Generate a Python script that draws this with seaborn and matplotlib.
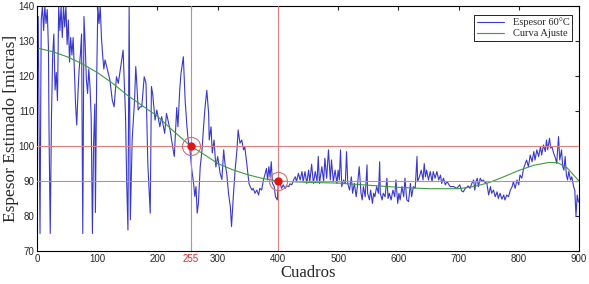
import matplotlib
matplotlib.use("Agg")
import matplotlib.pyplot as plt
import seaborn as sns
import pandas as pd

sns.set_style("white")

# espesor estimado (frame, micras)
cuadros = [0, 2, 5, 7, 9, 11, 13, 15, 17, 19, 20, 22, 24, 26, 28, 30, 32, 34, 36, 38,
           40, 42, 44, 46, 48, 50, 52, 54, 56, 58, 60, 62, 64, 66, 68, 70, 72, 74, 76, 78,
           80, 82, 84, 86, 88, 90, 92, 94, 96, 97, 99, 101, 103, 105, 107, 109, 111,
           113, 121, 125, 128, 132, 135, 139, 143, 147, 149, 151, 153, 155, 158, 162, 164,
           166, 168, 171, 174, 178, 181, 184, 188, 190, 192, 196, 199, 204, 207, 212, 215,
           221, 226, 228,
           230, 232, 234, 237, 239, 243, 246, 249, 251, 254, 257, 260, 262, 264, 266, 268,
           271, 274, 277, 279, 282, 285, 286, 289, 291, 294, 297, 300, 304, 307, 310, 312,
           315, 318, 321, 323, 326, 329, 332, 334, 337, 340, 343, 345, 348,
           352, 354, 357, 359, 362, 365, 368, 370, 373, 376, 379, 381, 383, 385, 387, 389,
           391, 394, 396, 399, 401, 404, 406, 409, 412, 415, 418, 420, 423, 426, 429, 431,
           434, 437, 440, 442, 445, 448, 451, 453, 456, 459, 462, 465, 467, 469, 473, 476,
           478, 481, 484, 487, 489, 492, 495, 498, 500, 502, 504,
           506, 509, 512, 514, 516, 519, 522, 524, 527, 530, 532, 535, 538, 540, 542, 545,
           548, 549, 552, 554, 557, 559, 561, 564, 567, 569, 570, 573, 575, 578, 581, 583,
           585, 588, 591, 594, 596, 599, 601, 603, 606, 609, 611, 614, 617, 620, 622, 625,
           628, 631, 632, 635, 638, 641, 643, 645, 647, 650, 653, 656, 658, 661, 664, 667,
           670, 672, 675, 678, 681, 686, 692, 697, 702,
           705, 708, 711, 714, 716, 719, 722, 725, 727, 729, 731, 733, 736, 739, 741, 744,
           747, 750, 753, 755, 758, 761, 764, 766, 769, 772, 775, 777, 780, 783, 786, 789,
           791, 794, 797, 800, 802, 805, 808, 811, 813, 816, 819, 822, 825, 827, 830, 833,
           836, 838, 841, 844, 846, 848, 851, 853, 855, 858, 861, 863, 866, 868, 871, 873,
           875, 877, 879, 881, 883, 886, 888, 891, 893, 895, 897, 899]
espesor = [112, 137, 75, 136, 140, 133, 140, 135, 139, 128, 104, 75, 108, 126, 132, 116, 121, 113, 140, 133,
           140, 131, 140, 134, 140, 129, 136, 124, 131, 126, 131, 122, 112, 106, 115, 122, 126, 132, 75, 137,
           129, 119, 115, 122, 117, 108, 75, 101, 112, 81, 118, 140, 135, 140, 131, 126, 122,
           124.6, 118.9, 113.1, 111.2, 119.8, 117.9, 122.7, 127.4, 108.4, 89.3, 76, 140, 78.9, 101.7, 113.1, 122.7,
           117, 110.3, 111.2, 111.2, 119.8, 117.9, 95, 80.8, 117, 115, 107.4, 110.3, 105.5, 108.4, 103.6, 109.3,
           104.6, 98.9, 97,
           104, 111, 105.5, 116, 120.6, 125.5, 113, 105.5, 101.7, 98.9, 93.2, 89.4, 85.6, 88.4, 80.8, 83.6,
           94, 98.9, 106.5, 111, 115.9, 109.3, 101.7, 105.5, 98, 101.7, 94, 97, 92.3, 90.4, 98.9, 95.1,
           92.3, 86.5, 82.7, 77, 85.6, 93.2, 98.9, 104.6, 100.8, 101.7, 98.9, 99.8, 95.5,
           89.3, 88.4, 87.4, 87.9, 86.5, 87.4, 86, 87.9, 87.4, 90.3, 92.2, 93.6, 90.3, 94.1, 91.2, 95.5,
           89.3, 88.4, 85.5, 84.6, 90.3, 89.3, 87.9, 88.9, 87.9, 88.6, 88.4, 89.2, 88.9, 90.3, 91.2, 89.8,
           92.2, 90.3, 92.7, 89.8, 92.7, 89.3, 93.1, 89.8, 94.8, 89.3, 92.7, 89.8, 97, 89.3, 94.1, 89.8,
           96.5, 90.8, 98.9, 90.3, 96, 89.8, 93.1, 89.3, 93.1, 90.3, 98.9,
           88.4, 90.3, 89.3, 98.4, 89.3, 87.4, 91.2, 86.5, 89.3, 85.5, 88.4, 94.1, 86.5, 84.6, 88.4, 85.5,
           94.6, 86.5, 84.6, 87.4, 83.6, 86.5, 85.5, 88.4, 86.5, 95.5, 86.5, 84.6, 86.5, 85.5, 90.8, 85,
           86.5, 84.6, 87.4, 85.5, 90.3, 83.6, 86.5, 84.6, 88.4, 85.5, 90.8, 84.6, 84.1, 89.3, 85.5, 88.4,
           87.9, 97, 89.8, 91.2, 93.1, 90.3, 95, 91.2, 93.1, 90.3, 92.7, 89.8, 92.7, 90.8, 92.7, 90.3,
           91.7, 89.3, 90.8, 88.9, 89.8, 88.4, 88.4, 87.9, 88.9,
           87.2, 86.9, 87.9, 88.2, 88.6, 87.9, 89.3, 90.3, 87.4, 89.8, 90.8, 88.4, 90.8, 89.8, 90.3, 89.6,
           89.3, 86, 88.4, 86.5, 87.4, 85.5, 86.9, 85, 86.5, 84.8, 86, 84.6, 86, 85.5, 87.4, 88.4,
           89.8, 87.9, 90.3, 88.9, 91.7, 90.8, 93.6, 95, 96, 94.1, 97.4, 95.5, 98.4, 96, 98.9, 97,
           99.8, 97.4, 100.3, 98.4, 101.7, 98.9, 102.2, 99.4, 99.8, 97.9, 96.5, 95, 102.7, 96, 98.9, 94.1,
           93.1, 97, 91.7, 90.3, 92.7, 90.3, 91.2, 88.4, 87.4, 80, 86, 84]

# curva de ajuste
ajuste_x = [0, 25, 50, 75, 100, 125, 150, 175, 200, 225, 255, 280, 300, 325, 350, 375, 400,
            450, 500, 550, 600, 650, 700, 725, 750, 775, 800, 825, 850, 865, 880, 900]
ajuste_y = [128, 127, 125.5, 123.5, 121, 118, 114.5, 111.5, 108.5, 104.5, 100, 97.3, 95, 93.2,
            91.8, 90.7, 90, 89.6, 89.4, 88.8, 88.2, 87.8, 87.8, 88.4, 89.5, 91.2, 93, 94.5,
            95.3, 95.2, 93.8, 90]

# puntos marcados
marca_x = [255, 400]
marca_y = [100, 90]

xticks = [0, 100, 200, 255, 300, 400, 500, 600, 700, 800, 900]
yticks = [70, 80, 90, 100, 110, 120, 130, 140]

df = pd.DataFrame({"Cuadros": cuadros, "Espesor": espesor})
fit = pd.DataFrame({"Cuadros": ajuste_x, "Espesor": ajuste_y})

fig = plt.figure(figsize=(5.89, 2.84), dpi=100)
ax = fig.add_axes([37 / 589, 1 - 251 / 284, 542 / 589, 245 / 284])

sns.lineplot(data=df, x="Cuadros", y="Espesor", ax=ax, color="#3838cf",
             lw=0.8, estimator=None, sort=False, label="Espesor 60°C")
sns.lineplot(data=fit, x="Cuadros", y="Espesor", ax=ax, color="#3f9a3f",
             lw=0.8, estimator=None, sort=False, label="Curva Ajuste")

for xv in marca_x:
    ax.axvline(xv, color="#dc8080", lw=0.8, zorder=3)
for yv in marca_y:
    ax.axhline(yv, color="#dc8080", lw=0.8, zorder=3)
ax.plot(marca_x, marca_y, "o", ms=5, color="#e01515", zorder=5)
ax.plot(marca_x, marca_y, "o", ms=13, mfc="none", mec="#d47070", mew=0.8, zorder=5)

ax.set_xlim(0, 900)
ax.set_ylim(70, 140)
ax.set_xticks(xticks)
ax.set_xticklabels([str(t) for t in xticks], fontfamily="Liberation Sans", fontsize=7)
ax.get_xticklabels()[3].set_color("#d03030")
ax.set_yticks(yticks)
ax.set_yticklabels([str(t) for t in yticks], fontfamily="Liberation Sans", fontsize=7)
ax.tick_params(direction="in", length=3, width=0.8, top=True, right=True, pad=2)
for s in ax.spines.values():
    s.set_color("black")
    s.set_linewidth(0.8)

ax.set_xlabel("Cuadros", fontfamily="Liberation Serif", fontsize=12, labelpad=1)
ax.set_ylabel("Espesor Estimado [micras]", fontfamily="Liberation Serif", fontsize=12.5)
ax.yaxis.set_label_coords(-0.034, 0.5)

leg = ax.legend(loc="upper right", bbox_to_anchor=(0.988, 0.965), borderaxespad=0,
                fancybox=False, framealpha=1, edgecolor="black",
                prop={"family": "Liberation Serif", "size": 7.5},
                handlelength=2.6, borderpad=0.3, labelspacing=0.15)
leg.get_frame().set_linewidth(0.6)

fig.savefig("out.png", dpi=100, facecolor="white")
